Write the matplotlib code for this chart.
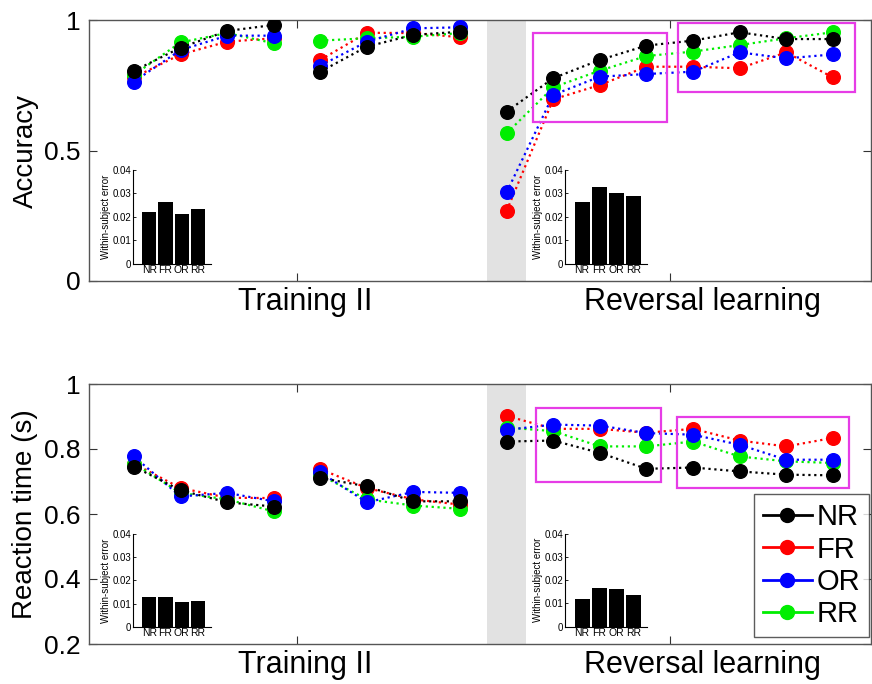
import numpy as np
from matplotlib import pyplot as plt
from matplotlib.patches import Rectangle
from matplotlib.lines import Line2D

plt.rcParams['font.family'] = ['Liberation Sans', 'DejaVu Sans']

# data
blocks = np.arange(1, 17)
segments = [(0, 4), (4, 8), (8, 16)]  # training II (two runs), reversal
conditions = ['NR', 'FR', 'OR', 'RR']
colors = {'NR': 'k', 'FR': '#ff0000', 'OR': '#0000ff', 'RR': '#00ee00'}
draw_order = ['FR', 'RR', 'OR', 'NR']

acc = {
    'NR': [0.805, 0.894, 0.958, 0.981, 0.802, 0.898, 0.943, 0.955,
           0.649, 0.777, 0.847, 0.902, 0.921, 0.953, 0.927, 0.927],
    'FR': [0.780, 0.868, 0.917, 0.930, 0.847, 0.951, 0.950, 0.934,
           0.269, 0.696, 0.751, 0.821, 0.821, 0.815, 0.876, 0.780],
    'OR': [0.764, 0.885, 0.940, 0.940, 0.825, 0.917, 0.968, 0.972,
           0.340, 0.713, 0.783, 0.793, 0.802, 0.876, 0.853, 0.868],
    'RR': [0.790, 0.914, 0.950, 0.911, 0.921, 0.930, 0.936, 0.950,
           0.566, 0.742, 0.806, 0.862, 0.879, 0.904, 0.930, 0.953],
}
rt = {
    'NR': [0.746, 0.673, 0.636, 0.623, 0.711, 0.685, 0.639, 0.639,
           0.823, 0.826, 0.788, 0.739, 0.743, 0.731, 0.721, 0.719],
    'FR': [0.755, 0.680, 0.650, 0.649, 0.738, 0.680, 0.645, 0.629,
           0.902, 0.862, 0.862, 0.850, 0.862, 0.826, 0.808, 0.834],
    'OR': [0.777, 0.654, 0.665, 0.639, 0.728, 0.636, 0.668, 0.665,
           0.859, 0.875, 0.872, 0.849, 0.844, 0.813, 0.767, 0.767],
    'RR': [0.755, 0.665, 0.645, 0.608, 0.720, 0.645, 0.626, 0.616,
           0.866, 0.855, 0.808, 0.808, 0.823, 0.777, 0.762, 0.757],
}

err_acc_train = [0.0220, 0.0264, 0.0211, 0.0233]
err_acc_rev = [0.0264, 0.0329, 0.0300, 0.0289]
err_rt_train = [0.0129, 0.0127, 0.0108, 0.0112]
err_rt_rev = [0.0119, 0.0165, 0.0161, 0.0135]

# highlighted block ranges (x0, x1, y0, y1)
acc_boxes = [(9.57, 12.44, 0.609, 0.950), (12.67, 16.47, 0.724, 0.989)]
rt_boxes = [(9.62, 12.31, 0.698, 0.926), (12.65, 16.34, 0.680, 0.900)]

W, H = 872, 684
fig = plt.figure(figsize=(W / 100, H / 100), dpi=100)


def px_axes(l, t, r, b):
    return fig.add_axes([l / W, 1 - b / H, (r - l) / W, (b - t) / H])


def main_panel(ax, data, boxes, ylim, yticks, ylabel):
    ax.axvspan(8.58, 9.42, color='#e2e2e2', lw=0, zorder=0)
    for c in draw_order:
        y = np.array(data[c])
        for s0, s1 in segments:
            ax.plot(blocks[s0:s1], y[s0:s1], ':', color=colors[c], lw=1.6,
                    marker='o', ms=9.8, mec=colors[c], zorder=3)
    for x0, x1, y0, y1 in boxes:
        ax.add_patch(Rectangle((x0, y0), x1 - x0, y1 - y0, fill=False,
                               ec='#e63ce6', lw=1.6, zorder=4))
    ax.set_xlim(0.036, 16.82)
    ax.set_ylim(*ylim)
    ax.set_yticks(yticks)
    ax.set_yticklabels([('%g' % v) for v in yticks])
    ax.set_xticks([4.5, 12.5])
    ax.set_xticklabels([])
    ax.tick_params(direction='in', length=6, width=0.8, top=True, right=True,
                   labelsize=19, pad=6, color='#333333')
    for sp in ax.spines.values():
        sp.set_color('#555555')
        sp.set_linewidth(1.0)
    ax.set_ylabel(ylabel, fontsize=20, labelpad=4)
    for x, lab in [(4.67, 'Training II'), (13.21, 'Reversal learning')]:
        ax.annotate(lab, xy=(x, 0), xycoords=('data', 'axes fraction'),
                    xytext=(0, -21), textcoords='offset pixels',
                    ha='center', va='center', fontsize=22)


def inset(ax, vals):
    ax.bar(np.arange(1, 5), vals, width=0.88, color='k')
    ax.set_xlim(0.0, 4.8)
    ax.set_ylim(0, 0.04)
    ax.set_yticks([0, 0.01, 0.02, 0.03, 0.04])
    ax.set_yticklabels(['0', '0.01', '0.02', '0.03', '0.04'])
    ax.set_xticks(np.arange(1, 5))
    ax.set_xticklabels(conditions)
    ax.tick_params(direction='in', length=2, width=0.6, labelsize=7, pad=1.5)
    ax.tick_params(axis='x', length=0, labelsize=7.5, pad=1)
    ax.spines['top'].set_visible(False)
    ax.spines['right'].set_visible(False)
    for sp in ['left', 'bottom']:
        ax.spines[sp].set_linewidth(0.8)
    ax.set_ylabel('Within-subject error', fontsize=7, labelpad=1)
    ax.patch.set_alpha(0)


ax1 = px_axes(89, 20, 871, 281)
main_panel(ax1, acc, acc_boxes, (0, 1), [0, 0.5, 1], 'Accuracy')
ax2 = px_axes(89, 384, 871, 644)
main_panel(ax2, rt, rt_boxes, (0.2, 1), [0.2, 0.4, 0.6, 0.8, 1], 'Reaction time (s)')

inset(px_axes(133, 170, 211, 263.5), err_acc_train)
inset(px_axes(565, 170, 647, 263.5), err_acc_rev)
inset(px_axes(133, 534, 211, 626.7), err_rt_train)
inset(px_axes(565, 533.5, 647, 626.7), err_rt_rev)

handles = [Line2D([], [], color=colors[c], lw=2, marker='o', ms=10) for c in conditions]
leg = ax2.legend(handles, conditions, loc='lower right',
                 bbox_to_anchor=(869 / W, 1 - 637 / H), bbox_transform=fig.transFigure,
                 fontsize=21, frameon=True, fancybox=False, borderaxespad=0,
                 handlelength=1.7, handletextpad=0.15, labelspacing=0.15,
                 borderpad=0.3)
leg.get_frame().set_edgecolor('#333333')
leg.get_frame().set_linewidth(1.0)
leg.set_zorder(6)

fig.savefig('out.png', dpi=100)
